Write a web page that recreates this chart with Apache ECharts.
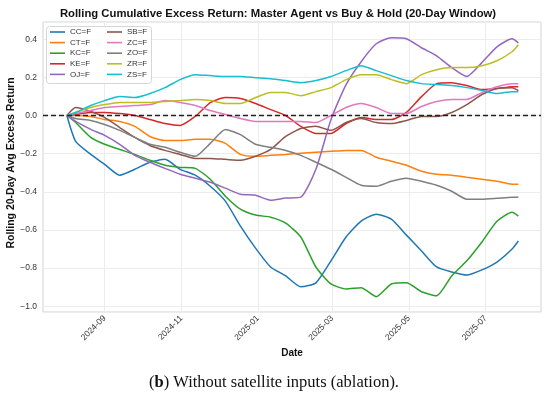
<!DOCTYPE html>
<html><head><meta charset="utf-8">
<script src="https://cdn.jsdelivr.net/npm/echarts@6/dist/echarts.min.js"></script>
<style>html,body{margin:0;padding:0;background:#fff}#c{width:550px;height:397px}</style>
</head><body><div id="c"></div>
<script>
var dates = ['2024-08-02','2024-08-09','2024-08-21','2024-09-01','2024-09-13','2024-09-25','2024-10-07','2024-10-19','2024-10-31','2024-11-12','2024-11-24','2024-12-06','2024-12-18','2024-12-30','2025-01-11','2025-01-23','2025-02-04','2025-02-16','2025-02-28','2025-03-12','2025-03-24','2025-04-05','2025-04-17','2025-04-29','2025-05-11','2025-05-23','2025-06-04','2025-06-16','2025-06-28','2025-07-10','2025-07-22','2025-07-27'];
var names = ['CC=F','CT=F','KC=F','KE=F','OJ=F','SB=F','ZC=F','ZO=F','ZR=F','ZS=F'];
var CC = [0,-0.136,-0.204,-0.256,-0.313,-0.282,-0.245,-0.230,-0.282,-0.313,-0.371,-0.449,-0.580,-0.695,-0.794,-0.841,-0.898,-0.877,-0.762,-0.637,-0.554,-0.517,-0.543,-0.627,-0.710,-0.794,-0.820,-0.836,-0.809,-0.768,-0.700,-0.658];
var CT = [0,0,-0.005,-0.021,-0.031,-0.057,-0.110,-0.131,-0.131,-0.125,-0.125,-0.146,-0.204,-0.214,-0.209,-0.204,-0.198,-0.193,-0.188,-0.183,-0.183,-0.219,-0.240,-0.261,-0.292,-0.308,-0.313,-0.324,-0.334,-0.345,-0.360,-0.360];
var KC = [0,-0.037,-0.115,-0.151,-0.178,-0.204,-0.235,-0.261,-0.272,-0.277,-0.334,-0.423,-0.491,-0.522,-0.533,-0.564,-0.637,-0.794,-0.883,-0.909,-0.903,-0.950,-0.883,-0.877,-0.924,-0.945,-0.841,-0.762,-0.663,-0.554,-0.507,-0.527];
var KE = [0,0.005,0.016,0.016,0.010,0,-0.021,-0.042,-0.052,-0.005,0.068,0.094,0.089,0.063,0.031,0,-0.057,-0.094,-0.094,-0.042,-0.010,-0.021,-0.021,0.016,0.099,0.167,0.172,0.157,0.136,0.141,0.151,0.151];
var OJ = [0,-0.031,-0.073,-0.104,-0.151,-0.209,-0.245,-0.277,-0.308,-0.329,-0.350,-0.381,-0.413,-0.418,-0.444,-0.433,-0.428,-0.282,-0.021,0.162,0.282,0.376,0.407,0.402,0.355,0.313,0.251,0.204,0.277,0.360,0.402,0.381];
var SB = [0,0.042,0.021,-0.010,-0.063,-0.115,-0.157,-0.183,-0.204,-0.225,-0.225,-0.230,-0.235,-0.214,-0.178,-0.110,-0.068,-0.057,-0.078,-0.037,-0.016,-0.037,-0.042,-0.026,-0.005,-0.005,0.016,0.057,0.110,0.141,0.146,0.131];
var ZC = [0,0.010,0.026,0.042,0.047,0.052,0.057,0.078,0.068,0.052,0.026,0.005,-0.016,-0.031,-0.031,-0.031,-0.031,-0.037,0,0.042,0.063,0.042,0.010,0.010,0.047,0.073,0.084,0.084,0.120,0.151,0.167,0.167];
var ZO = [0,-0.016,-0.026,-0.047,-0.078,-0.115,-0.151,-0.167,-0.193,-0.214,-0.146,-0.073,-0.100,-0.151,-0.167,-0.183,-0.209,-0.245,-0.282,-0.324,-0.366,-0.371,-0.345,-0.329,-0.345,-0.366,-0.397,-0.439,-0.439,-0.434,-0.428,-0.428];
var ZR = [0,0.016,0.042,0.057,0.068,0.068,0.068,0.073,0.078,0.084,0.078,0.063,0.063,0.094,0.120,0.120,0.104,0.125,0.146,0.188,0.214,0.214,0.188,0.167,0.214,0.240,0.251,0.251,0.261,0.287,0.334,0.371];
var ZS = [0,0.016,0.052,0.078,0.099,0.094,0.115,0.146,0.188,0.214,0.209,0.204,0.204,0.198,0.193,0.183,0.172,0.183,0.204,0.235,0.261,0.235,0.209,0.183,0.167,0.162,0.157,0.146,0.131,0.115,0.125,0.125];
var xTicks = ['2024-09-01','2024-11-01','2025-01-01','2025-03-01','2025-05-01','2025-07-01'];
var values = [CC,CT,KC,KE,OJ,SB,ZC,ZO,ZR,ZS];
var colors = ['#1f77b4','#ff7f0e','#2ca02c','#d62728','#9467bd','#8c564b','#e377c2','#7f7f7f','#bcbd22','#17becf'];

var FONT = 'Liberation Sans, Arial, Helvetica, sans-serif';
function ts(d){ return Date.UTC(+d.slice(0,4), +d.slice(5,7)-1, +d.slice(8,10)); }
var tickTs = xTicks.map(ts);

var series = names.map(function(n,i){
  return {
    name: n, type: 'line', showSymbol: false, symbol: 'none',
    data: dates.map(function(d,j){return [ts(d), values[i][j]];}),
    lineStyle: {width: 1.5, color: colors[i]}, itemStyle: {color: colors[i]},
    smooth: 0.2, animation: false
  };
});
series.push({type:'line', data:[], z: 5, markLine:{silent:true, symbol:'none', animation:false, label:{show:false},
  lineStyle:{color:'#222', type:[5,3], width:1.4}, data:[{yAxis:0}]}});

function legendFor(list, left){
  return {
    data: list, orient: 'vertical', left: left, top: 27, padding: 0,
    itemWidth: 15, itemHeight: 1.6, itemGap: 0.6, icon: 'rect',
    textStyle: {fontFamily: FONT, fontSize: 8, color: '#333', lineHeight: 10},
    selectedMode: false, z: 100
  };
}

var chart = echarts.init(document.getElementById('c'), null, {renderer: 'canvas'});
chart.setOption({
  animation: false,
  backgroundColor: '#fff',
  grid: {left: 43, right: 9, top: 22, bottom: 85, show: true, borderColor: '#d2d2d2', borderWidth: 1, backgroundColor: '#fff'},
  xAxis: {
    type: 'value', min: ts('2024-07-14'), max: ts('2025-08-14'),
    axisLine: {show: false}, axisTick: {show: false, customValues: tickTs},
    splitLine: {show: true, lineStyle: {color: '#ececec', width: 1}},
    axisLabel: {customValues: tickTs, rotate: 45, margin: 5, fontSize: 8.5, fontFamily: FONT, color: '#333',
      formatter: function(v){var d=new Date(v); var m=d.getUTCMonth()+1; return d.getUTCFullYear()+'-'+(m<10?'0':'')+m;}}
  },
  yAxis: {
    type: 'value', min: -1.03, max: 0.49, splitNumber: 7,
    axisLine: {show: false}, axisTick: {show: false},
    splitLine: {show: true, lineStyle: {color: '#ececec', width: 1}},
    axisLabel: {margin: 6, fontSize: 8.5, fontFamily: FONT, color: '#333', showMinLabel: false, showMaxLabel: false,
      formatter: function(v){
        if (Math.abs(v*5 - Math.round(v*5)) > 1e-6) return '';
        var a = Math.abs(v).toFixed(1); return (v < -1e-9 ? '\u2212' : '') + a;
      }}
  },
  legend: [legendFor(names.slice(0,5), 50), legendFor(names.slice(5), 107)],
  graphic: [
    {type:'rect', left: 46, top: 26, z: 90, shape:{width:105, height:57, r:3},
     style:{fill:'rgba(255,255,255,0.85)', stroke:'#d6d6d6', lineWidth:1}},
    {type:'text', x: 278, y: 14, style:{text:'Rolling Cumulative Excess Return: Master Agent vs Buy & Hold (20-Day Window)',
      font:'bold 11.3px '+FONT, fill:'#111', textAlign:'center', textVerticalAlign:'middle'}},
    {type:'text', x: 11, y: 163, rotation: Math.PI/2, style:{text:'Rolling 20-Day Avg Excess Return',
      font:'bold 10.5px '+FONT, fill:'#111', textAlign:'center', textVerticalAlign:'middle'}},
    {type:'text', x: 292, y: 353, style:{text:'Date', font:'bold 10px '+FONT, fill:'#111', textAlign:'center', textVerticalAlign:'middle'}},
    {type:'text', x: 274, y: 383, style:{text:'{n|(}{b|b}{n|) Without satellite inputs (ablation).}',
      textAlign:'center', textVerticalAlign:'middle',
      rich:{n:{font:'16.5px Liberation Serif, Times New Roman, serif', fill:'#111'}, b:{font:'bold 16.5px Liberation Serif, Times New Roman, serif', fill:'#111'}}}}
  ],
  series: series
});
</script></body></html>
